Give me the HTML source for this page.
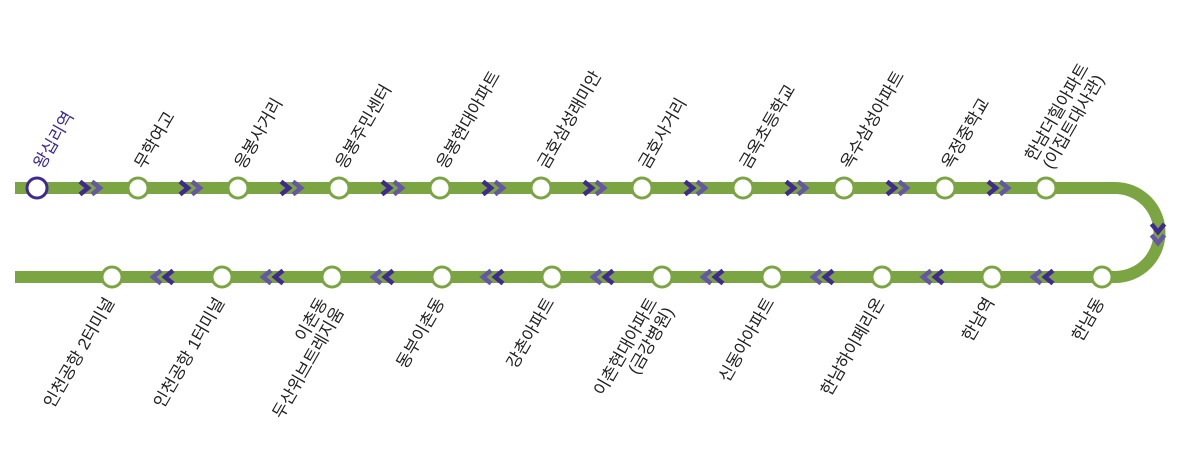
<!DOCTYPE html>
<html><head><meta charset="utf-8"><style>
html,body{margin:0;padding:0;background:#fff;}
svg{display:block;}
text{font-family:"Liberation Sans","Noto Sans CJK KR",sans-serif;font-size:17px;fill:#222;}
</style></head><body>
<svg width="1187" height="455" viewBox="0 0 1187 455" xmlns="http://www.w3.org/2000/svg">
<defs>
<polyline id="cr" points="-8,-6.5 0,0 -8,6.5" fill="none" stroke-width="4.5"/>
</defs>
<path d="M15,188 H1115 A44.5,44.5 0 0 1 1115,277 H15" fill="none" stroke="#7ba443" stroke-width="12"/>
<g>
<g stroke="#40298f"><use href="#cr" x="88" y="188"/><use href="#cr" x="188" y="188"/><use href="#cr" x="289" y="188"/><use href="#cr" x="390" y="188"/><use href="#cr" x="491" y="188"/><use href="#cr" x="592" y="188"/><use href="#cr" x="693" y="188"/><use href="#cr" x="794" y="188"/><use href="#cr" x="895" y="188"/><use href="#cr" x="996" y="188"/></g>
<g stroke="#6656a6"><use href="#cr" x="100" y="188"/><use href="#cr" x="200" y="188"/><use href="#cr" x="301" y="188"/><use href="#cr" x="402" y="188"/><use href="#cr" x="503" y="188"/><use href="#cr" x="604" y="188"/><use href="#cr" x="705" y="188"/><use href="#cr" x="806" y="188"/><use href="#cr" x="907" y="188"/><use href="#cr" x="1008" y="188"/></g>
</g>
<polyline points="1151.5,224 1158,232 1164.5,224" fill="none" stroke="#40298f" stroke-width="4.5"/>
<polyline points="1151.5,235 1158,243 1164.5,235" fill="none" stroke="#6656a6" stroke-width="4.5"/>
<g transform="scale(-1,1)">
<g stroke="#6656a6"><use href="#cr" x="-153" y="277"/><use href="#cr" x="-263" y="277"/><use href="#cr" x="-373" y="277"/><use href="#cr" x="-483" y="277"/><use href="#cr" x="-593" y="277"/><use href="#cr" x="-703" y="277"/><use href="#cr" x="-813" y="277"/><use href="#cr" x="-923" y="277"/><use href="#cr" x="-1033" y="277"/></g>
<g stroke="#40298f"><use href="#cr" x="-165" y="277"/><use href="#cr" x="-275" y="277"/><use href="#cr" x="-385" y="277"/><use href="#cr" x="-495" y="277"/><use href="#cr" x="-605" y="277"/><use href="#cr" x="-715" y="277"/><use href="#cr" x="-825" y="277"/><use href="#cr" x="-935" y="277"/><use href="#cr" x="-1045" y="277"/></g>
</g>
<g fill="#fff" stroke="#7ba443" stroke-width="3">
<circle cx="37" cy="188" r="10" stroke="#40298f"/>
<circle cx="138" cy="188" r="10"/><circle cx="238" cy="188" r="10"/><circle cx="339" cy="188" r="10"/><circle cx="440" cy="188" r="10"/><circle cx="541" cy="188" r="10"/><circle cx="642" cy="188" r="10"/><circle cx="743" cy="188" r="10"/><circle cx="844" cy="188" r="10"/><circle cx="945" cy="188" r="10"/><circle cx="1046" cy="188" r="10"/>
<circle cx="112" cy="277" r="10"/><circle cx="222" cy="277" r="10"/><circle cx="332" cy="277" r="10"/><circle cx="442" cy="277" r="10"/><circle cx="552" cy="277" r="10"/><circle cx="662" cy="277" r="10"/><circle cx="772" cy="277" r="10"/><circle cx="882" cy="277" r="10"/><circle cx="992" cy="277" r="10"/><circle cx="1102" cy="277" r="10"/>
</g>
<text transform="translate(43,170) rotate(-60)" style="fill:#40298f">왕십리역</text>
<text transform="translate(144,170) rotate(-60)">무학여고</text>
<text transform="translate(244,170) rotate(-60)">응봉사거리</text>
<text transform="translate(345,170) rotate(-60)">응봉주민센터</text>
<text transform="translate(446,170) rotate(-60)">응봉현대아파트</text>
<text transform="translate(547,170) rotate(-60)">금호삼성래미안</text>
<text transform="translate(648,170) rotate(-60)">금호사거리</text>
<text transform="translate(749,170) rotate(-60)">금옥초등학교</text>
<text transform="translate(850,170) rotate(-60)">옥수삼성아파트</text>
<text transform="translate(951,170) rotate(-60)">옥정중학교</text>
<text transform="translate(1052,170) rotate(-60)"><tspan x="-2" y="-19">한남더힐아파트</tspan><tspan x="0" y="0">(이집트대사관)</tspan></text>
<g text-anchor="end">
<text transform="translate(115,302) rotate(-60)">인천공항 2터미널</text>
<text transform="translate(225,302) rotate(-60)">인천공항 1터미널</text>
<text transform="translate(328,302) rotate(-60)"><tspan x="0" y="0">이촌동</tspan><tspan x="0" y="19">두산위브트레지움</tspan></text>
<text transform="translate(445,302) rotate(-60)">동부이촌동</text>
<text transform="translate(555,302) rotate(-60)">강촌아파트</text>
<text transform="translate(658,302) rotate(-60)"><tspan x="0" y="0">이촌현대아파트</tspan><tspan x="0" y="19">(금강병원)</tspan></text>
<text transform="translate(775,302) rotate(-60)">신동아아파트</text>
<text transform="translate(885,302) rotate(-60)">한남하이페리온</text>
<text transform="translate(995,302) rotate(-60)">한남역</text>
<text transform="translate(1105,302) rotate(-60)">한남동</text>
</g>
</svg>
</body></html>
